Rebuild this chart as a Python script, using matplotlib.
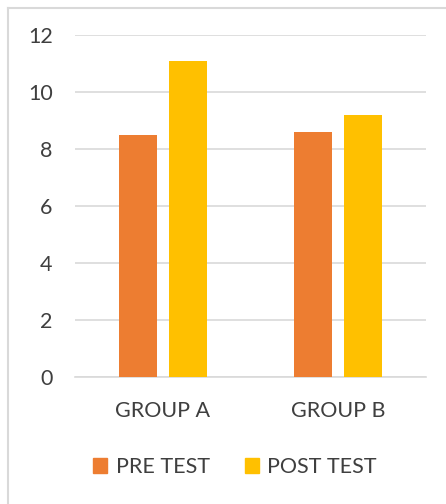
import numpy as np
import matplotlib
matplotlib.use('Agg')
import matplotlib.pyplot as plt
from matplotlib.lines import Line2D
from matplotlib.patches import Patch

# data
groups = ['GROUP A', 'GROUP B']
pre_test = [8.5, 8.6]
post_test = [11.1, 9.2]
series_names = ['PRE TEST', 'POST TEST']
y_ticks = [0, 2, 4, 6, 8, 10, 12]

plt.rcParams['font.family'] = ['Lato', 'DejaVu Sans']

fig = plt.figure(figsize=(4.46, 5.04), dpi=100)
ax = fig.add_axes([0.168, 0.252, 0.787, 0.6786])

text_color = '#3F3F3F'
grid_color = '#D9D9D9'
colors = ['#ED7D31', '#FFC000']

x = np.arange(len(groups))
bar_w = 0.2165
gap = 0.068
offset = (bar_w + gap) / 2

ax.bar(x - offset, pre_test, width=bar_w, color=colors[0], zorder=3)
ax.bar(x + offset, post_test, width=bar_w, color=colors[1], zorder=3)

ax.set_xlim(-0.5, 1.5)
ax.set_ylim(0, 12)
ax.set_yticks(y_ticks)
ax.set_yticklabels([str(t) for t in y_ticks])
ax.set_xticks(x)
ax.set_xticklabels(groups)

ax.grid(axis='y', color=grid_color, linewidth=1.2, zorder=0)
for s in ['top', 'right', 'left']:
    ax.spines[s].set_visible(False)
ax.spines['bottom'].set_color(grid_color)
ax.spines['bottom'].set_linewidth(1.2)
ax.tick_params(axis='both', length=0, colors=text_color, labelsize=15.5)
ax.tick_params(axis='y', pad=16)
ax.tick_params(axis='x', pad=17)

handles = [Patch(color=c) for c in colors]
fig.legend(handles, series_names, loc='center', bbox_to_anchor=(0.527, 0.073),
           ncol=2, frameon=False, fontsize=15.5, labelcolor=text_color,
           handlelength=0.65, handleheight=0.65, handletextpad=0.4, columnspacing=1.6)

# outer chart frame (left and top edges only visible)
W, H = 446.0, 504.0
fig.add_artist(Line2D([7.5 / W, 7.5 / W], [0, 1 - 7.5 / H], transform=fig.transFigure,
                      color=grid_color, linewidth=1.5))
fig.add_artist(Line2D([7.5 / W, 1], [1 - 7.5 / H, 1 - 7.5 / H], transform=fig.transFigure,
                      color=grid_color, linewidth=1.5))

fig.savefig('out.png', dpi=100)
